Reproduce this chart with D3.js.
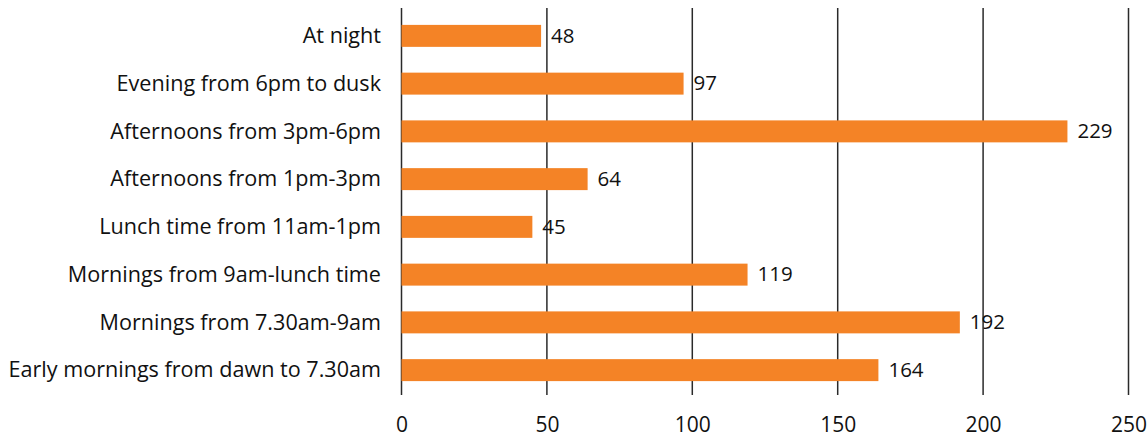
<!DOCTYPE html>
<html>
<head>
<meta charset="utf-8">
<script src="https://cdn.jsdelivr.net/npm/d3@7"></script>
<style>
  html, body { margin: 0; padding: 0; background: #fff; }
  svg { display: block; }
  text { font-family: "Open Sans", "Lato", sans-serif; fill: #111; }
</style>
</head>
<body>
<svg id="chart" width="1148" height="439"></svg>
<script>
// Time-of-day categories, top to bottom
const categories = [
  "At night",
  "Evening from 6pm to dusk",
  "Afternoons from 3pm-6pm",
  "Afternoons from 1pm-3pm",
  "Lunch time from 11am-1pm",
  "Mornings from 9am-lunch time",
  "Mornings from 7.30am-9am",
  "Early mornings from dawn to 7.30am"
];
const values = [48, 97, 229, 64, 45, 119, 192, 164];
const tickValues = [0, 50, 100, 150, 200, 250];

const svg = d3.select("#chart");

const x = d3.scaleLinear().domain([0, 250]).range([401.5, 1128.5]);
const y = d3.scaleBand().domain(categories).range([12, 394]).paddingInner(0.54).paddingOuter(0.27);

// vertical gridlines
svg.append("g")
  .selectAll("line")
  .data(tickValues)
  .join("line")
  .attr("x1", d => x(d)).attr("x2", d => x(d))
  .attr("y1", 8).attr("y2", 395)
  .attr("stroke", "#2a2a2a")
  .attr("stroke-width", 1.5);

// x-axis tick labels
const xAxis = d3.axisBottom(x).tickValues(tickValues).tickSize(0).tickPadding(0);
const gx = svg.append("g").attr("transform", "translate(0,417)").call(xAxis);
gx.select(".domain").remove();
gx.selectAll("text")
  .attr("dy", "0.71em")
  .style("font-size", "21px")
  .style("font-family", "'Open Sans', sans-serif")
  .attr("fill", "#111");

// category labels
const yAxis = d3.axisLeft(y).tickSize(0).tickPadding(0);
const gy = svg.append("g").attr("transform", "translate(381,0)").call(yAxis);
gy.select(".domain").remove();
gy.selectAll("text")
  .attr("dy", "0.33em")
  .style("font-size", "21.6px")
  .style("font-family", "'Open Sans', sans-serif")
  .attr("fill", "#111");

// bars
svg.append("g")
  .selectAll("rect")
  .data(values)
  .join("rect")
  .attr("x", x(0))
  .attr("y", (d, i) => y(categories[i]))
  .attr("width", d => x(d) - x(0))
  .attr("height", y.bandwidth())
  .attr("fill", "#f48326");

// value labels
svg.append("g")
  .selectAll("text")
  .data(values)
  .join("text")
  .attr("x", d => x(d) + 10)
  .attr("y", (d, i) => y(categories[i]) + y.bandwidth() / 2)
  .attr("dy", "0.33em")
  .style("font-size", "20.5px")
  .text(d => d);
</script>
</body>
</html>
